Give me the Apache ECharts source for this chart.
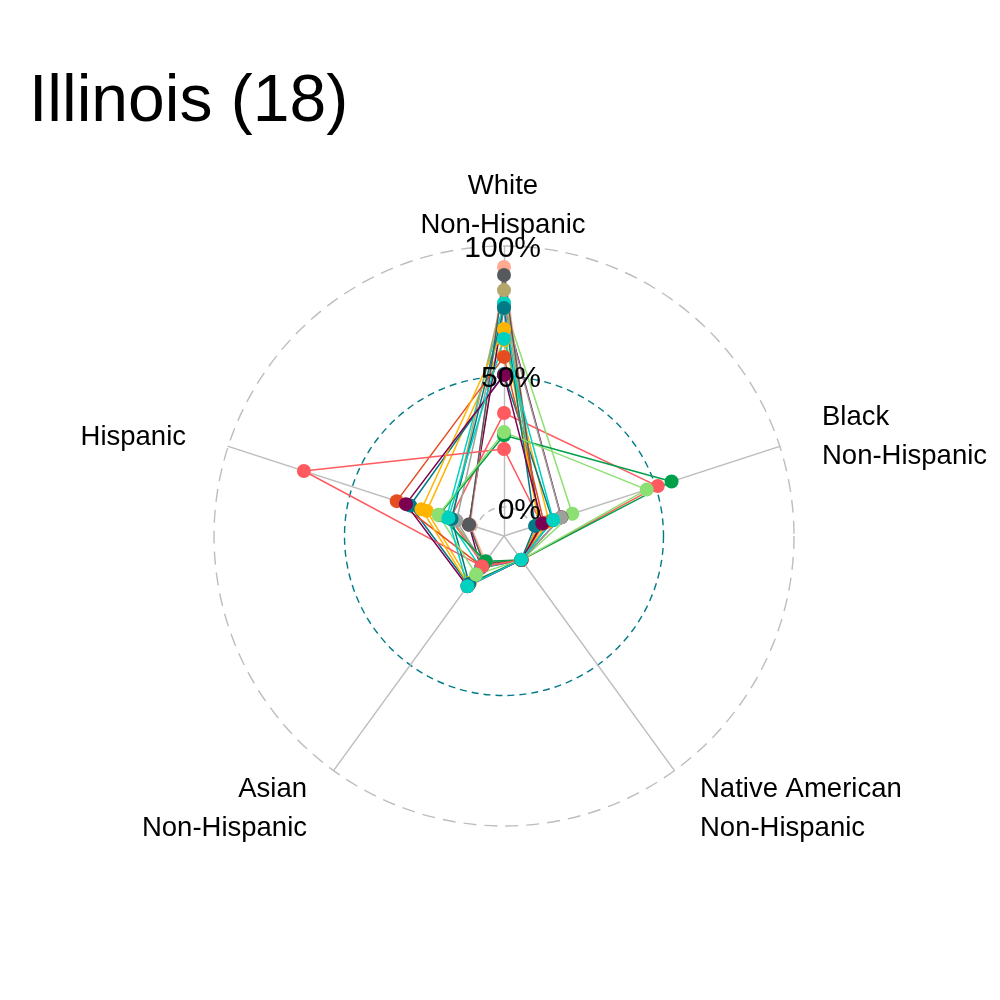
<!DOCTYPE html>
<html>
<head>
  <meta charset="utf-8">
  <title>Illinois (18)</title>
  <script src="https://cdn.jsdelivr.net/npm/echarts@6/dist/echarts.min.js"></script>
  <style>
    html, body { margin: 0; padding: 0; background: #fff; }
    #chart { width: 1000px; height: 1000px; }
  </style>
</head>
<body>
<div id="chart"></div>
<script>
// districts in the order ggplot draws them (sorted as strings)
var districts = ['1', '10', '11', '12', '13', '14', '15', '16', '17', '18', '2', '3', '4', '5', '6', '7', '8', '9'];
// shares in percent
var white    = [36.0, 64.0, 51.0, 78.0, 77.0, 78.2, 92.0, 83.1, 76.0, 88.9, 27.5, 57.5, 22.2, 68.2, 76.2, 28.7, 50.6, 64.4];
var black    = [50.8, 7.0, 8.5, 16.4, 12.0, 3.0, 3.0, 3.0, 11.9, 3.0, 56.4, 5.0, 4.0, 3.0, 1.4, 46.4, 4.3, 8.7];
var native   = [0.3, 0.2, 0.2, 0.3, 0.3, 0.2, 0.2, 0.2, 0.3, 0.2, 0.2, 0.3, 0.3, 0.2, 0.1, 0.2, 0.2, 0.1];
var asian    = [2.5, 11.0, 12.0, 1.5, 4.0, 4.0, 1.0, 1.5, 2.5, 2.0, 0.8, 3.3, 3.3, 12.0, 11.5, 7.1, 12.7, 12.7];
var hispanic = [10.5, 20.0, 26.7, 3.0, 3.0, 12.0, 2.5, 10.0, 8.0, 2.9, 15.0, 32.1, 69.5, 22.1, 10.0, 15.3, 28.4, 11.3];

var palette = ['#FF5A5F', '#FFB400', '#007A87', '#8CE071', '#7B0051', '#00D1C1',
               '#FFAA91', '#B4A76C', '#9CA299', '#565A5C', '#00A04B', '#E54C20'];

// counter-clockwise from the top
var axisNames = ['White', 'Hispanic', 'Asian', 'Native American', 'Black'];
var gridLabels = ['0%', '50%', '100%'];

var FONT = 'Liberation Sans, Arial, sans-serif';
var cx = 504, cy = 536, R = 290;
var minV = -100 / 9;   // centre offset like ggradar

var indicators = axisNames.map(function (n) { return { name: n, min: minV, max: 100 }; });

function ring(radius, color, dash) {
  return {
    indicator: indicators, center: [cx, cy], radius: radius, startAngle: 90,
    shape: 'circle', splitNumber: 1,
    axisName: { show: false },
    axisLine: { show: false },
    splitArea: { show: false },
    splitLine: { lineStyle: { color: color, width: 1.4, type: dash } }
  };
}
var r0 = R * (0 - minV) / (100 - minV);
var r50 = R * (50 - minV) / (100 - minV);

var lineData = [], pointData = [];
districts.forEach(function (d, i) {
  var c = palette[i % palette.length];
  var v = [white[i], hispanic[i], asian[i], native[i], black[i]];
  lineData.push({ name: d, value: v, lineStyle: { color: c, width: 1.5 }, itemStyle: { color: c } });
  pointData.push({ name: d, value: v, itemStyle: { color: c } });
});

function label(text, x, y, align, size) {
  return {
    type: 'text', x: x, y: y, z: 10,
    style: { text: text, fontSize: size, fontFamily: FONT, fill: '#000',
             textAlign: align, textVerticalAlign: 'middle', lineHeight: 39 }
  };
}

var chart = echarts.init(document.getElementById('chart'));
chart.setOption({
  backgroundColor: '#fff',
  animation: false,
  title: {
    text: 'Illinois (18)', left: 24, top: 65,
    textStyle: { fontSize: 66, fontWeight: 'normal', color: '#000', fontFamily: FONT }
  },
  radar: [
    {
      indicator: indicators, center: [cx, cy], radius: R, startAngle: 90,
      shape: 'circle', splitNumber: 1,
      axisName: { show: false },
      axisLine: { lineStyle: { color: '#bdbdbd', width: 1.4 } },
      splitLine: { show: false },
      splitArea: { show: false }
    },
    ring(R, '#bdbdbd', [13, 8]),
    ring(r50, '#007A87', [7, 5]),
    ring(r0, '#bdbdbd', [7, 5])
  ],
  series: [
    {
      type: 'radar', radarIndex: 0, z: 2, symbol: 'none',
      data: lineData
    },
    {
      type: 'radar', radarIndex: 0, z: 3, symbol: 'circle', symbolSize: 14,
      lineStyle: { width: 0, opacity: 0 },
      data: pointData
    }
  ],
  graphic: [
    label('White\nNon-Hispanic', 503, 206, 'center', 27.5),
    label('Black\nNon-Hispanic', 822, 437, 'left', 27.5),
    label('Hispanic', 186, 437, 'right', 27.5),
    label('Native American\nNon-Hispanic', 700, 809, 'left', 27.5),
    label('Asian\nNon-Hispanic', 307, 809, 'right', 27.5),
    label(gridLabels[0], 541, 511, 'right', 30),
    label(gridLabels[1], 541, 379, 'right', 30),
    label(gridLabels[2], 541, 249, 'right', 30)
  ]
});
</script>
</body>
</html>
